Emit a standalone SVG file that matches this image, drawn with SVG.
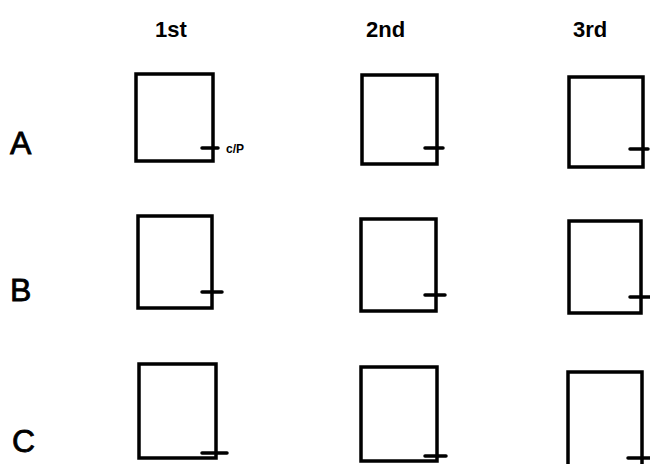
<svg xmlns="http://www.w3.org/2000/svg" width="650" height="464" viewBox="0 0 650 464">
<style>
.box{fill:none;stroke:#000;stroke-width:3.5;stroke-linejoin:miter}
.tick{stroke:#000;stroke-width:3.5;stroke-linecap:round}
.hdr{font-family:"Liberation Sans",Arial,sans-serif;font-weight:bold;font-size:22px;fill:#000}
.row{font-family:"Liberation Sans",Arial,sans-serif;font-size:32px;fill:#000;stroke:#000;stroke-width:0.8}
.note{font-family:"Liberation Sans",Arial,sans-serif;font-weight:bold;font-size:12px;fill:#000}
</style>
<rect width="650" height="464" fill="#fff"/>
<g id="headers">
<text class="hdr" x="155" y="37">1st</text>
<text class="hdr" x="366" y="37">2nd</text>
<text class="hdr" x="573" y="37">3rd</text>
</g>
<g id="rowlabels">
<text class="row" x="10" y="154">A</text>
<text class="row" x="10" y="301" font-size="28">B</text>
<text class="row" x="12" y="452" font-size="28">C</text>
</g>
<g id="A1"><rect class="box" x="136" y="74" width="77" height="87"/><line class="tick" x1="202" y1="148" x2="218" y2="148"/><text class="note" x="226" y="153">c/P</text></g>
<g id="A2"><rect class="box" x="362" y="75" width="75" height="89"/><line class="tick" x1="425" y1="148" x2="443" y2="148"/></g>
<g id="A3"><rect class="box" x="569" y="77" width="74" height="90"/><line class="tick" x1="630" y1="149" x2="648" y2="149"/></g>
<g id="B1"><rect class="box" x="138" y="216" width="74" height="92"/><line class="tick" x1="202" y1="292" x2="222" y2="292"/></g>
<g id="B2"><rect class="box" x="361" y="219" width="75" height="92"/><line class="tick" x1="425" y1="295" x2="445" y2="295"/></g>
<g id="B3"><rect class="box" x="569" y="221" width="72" height="92"/><line class="tick" x1="630" y1="297" x2="650" y2="297"/></g>
<g id="C1"><rect class="box" x="139" y="364" width="77" height="94"/><line class="tick" x1="202" y1="453" x2="227" y2="453"/></g>
<g id="C2"><rect class="box" x="361" y="367" width="76" height="94"/><line class="tick" x1="425" y1="456" x2="446" y2="456"/></g>
<g id="C3"><rect class="box" x="568" y="372" width="74" height="94"/><line class="tick" x1="628" y1="458" x2="650" y2="458"/></g>
</svg>
